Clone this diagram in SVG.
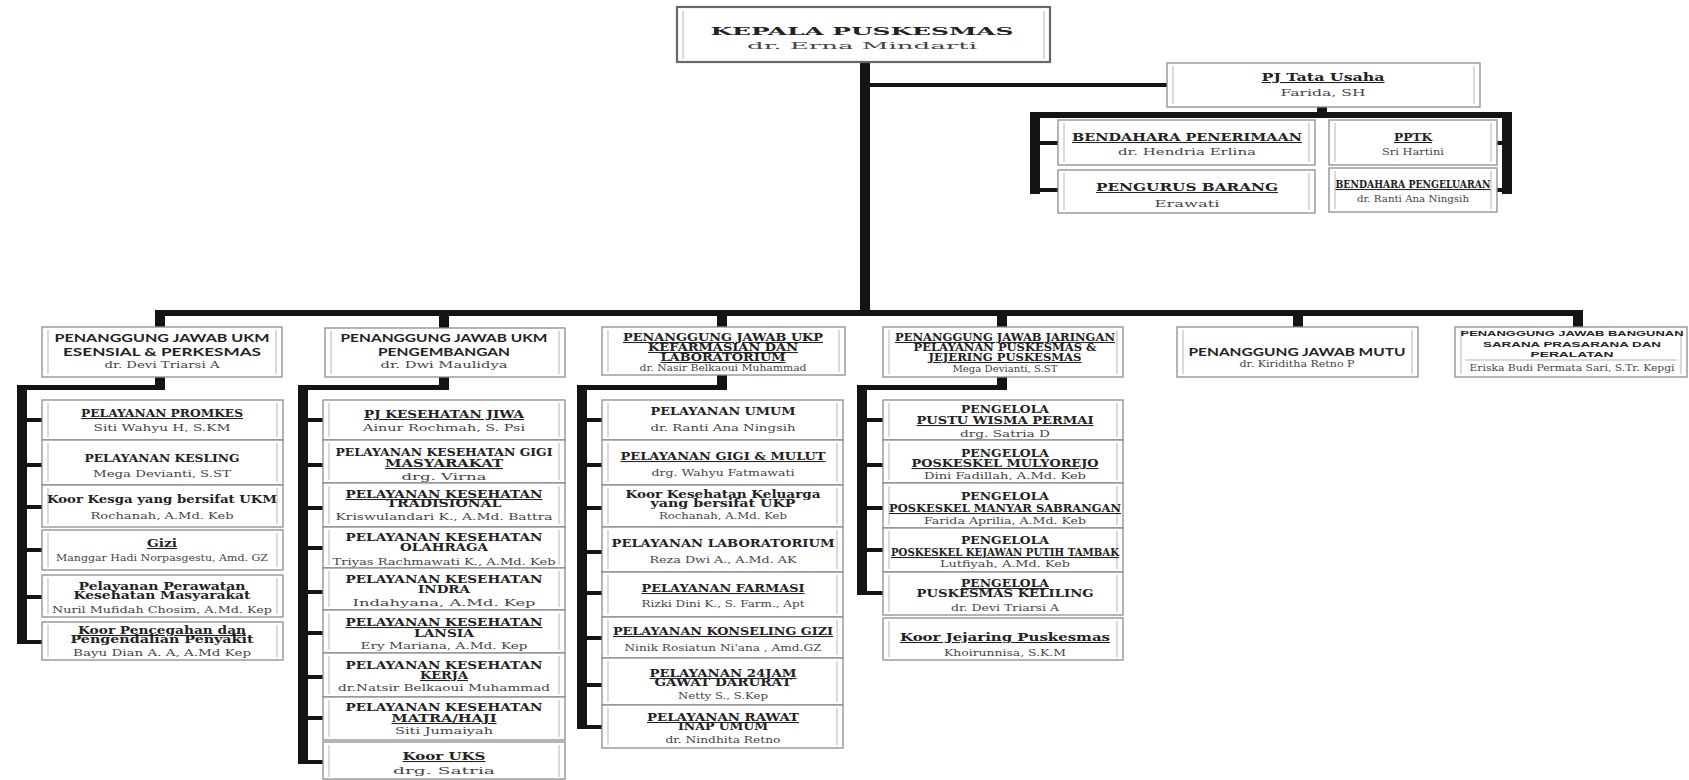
<svg xmlns="http://www.w3.org/2000/svg" width="1689" height="780" viewBox="0 0 1689 780">
<style>
.bg{fill:#fff}
.b{fill:#fff;stroke:#8c8c8c;stroke-width:1.3}
.bt{fill:#fff;stroke:#666;stroke-width:2.2}
.t{stroke:#b5b5b5;stroke-width:1;fill:none}
.c{fill:#141414}
text{text-anchor:middle}
.h{font-family:"DejaVu Serif","Liberation Serif",serif;font-weight:bold;font-size:10.5px;fill:#222}
.s{font-family:Lato,"Open Sans",sans-serif;font-weight:bold;font-size:12px;fill:#222}
.sl{font-family:"Liberation Sans",Arial,sans-serif;font-weight:bold;font-size:8px;fill:#222}
.n{font-family:"DejaVu Serif","Liberation Serif",serif;font-size:10px;fill:#444}
.u{text-decoration:underline}
</style>
<rect class="bg" x="0" y="0" width="1689" height="780"/>

<g id="connectors">
<rect class="c" x="860" y="62" width="10" height="254"/>
<rect class="c" x="870" y="83" width="297" height="4"/>
<rect class="c" x="1317" y="107" width="10" height="8"/>
<rect class="c" x="1030" y="112" width="482" height="6"/>
<rect class="c" x="1030" y="112" width="10" height="82"/>
<rect class="c" x="1040" y="141" width="18" height="4"/>
<rect class="c" x="1040" y="188" width="18" height="4"/>
<rect class="c" x="1502" y="112" width="10" height="82"/>
<rect class="c" x="1497" y="141" width="5" height="4"/>
<rect class="c" x="1497" y="188" width="5" height="4"/>

<rect class="c" x="155" y="310" width="1428" height="6"/>
<rect class="c" x="155" y="316" width="10" height="11"/>
<rect class="c" x="439" y="316" width="10" height="12"/>
<rect class="c" x="717" y="316" width="10" height="11"/>
<rect class="c" x="997" y="316" width="10" height="11"/>
<rect class="c" x="1293" y="316" width="10" height="11"/>
<rect class="c" x="1573" y="316" width="10" height="11"/>

<rect class="c" x="155" y="377" width="10" height="12"/>
<rect class="c" x="17" y="385" width="148" height="5"/>
<rect class="c" x="17" y="385" width="10" height="259"/>
<rect class="c" x="27" y="418" width="15" height="4"/>
<rect class="c" x="27" y="463" width="15" height="4"/>
<rect class="c" x="27" y="505" width="15" height="4"/>
<rect class="c" x="27" y="548" width="15" height="4"/>
<rect class="c" x="27" y="595" width="15" height="4"/>
<rect class="c" x="27" y="640" width="15" height="4"/>

<rect class="c" x="439" y="377" width="10" height="12"/>
<rect class="c" x="298" y="385" width="151" height="5"/>
<rect class="c" x="298" y="385" width="10" height="379"/>
<rect class="c" x="308" y="418" width="15" height="4"/>
<rect class="c" x="308" y="463" width="15" height="4"/>
<rect class="c" x="308" y="506" width="15" height="4"/>
<rect class="c" x="308" y="546" width="15" height="4"/>
<rect class="c" x="308" y="590" width="15" height="4"/>
<rect class="c" x="308" y="631" width="15" height="4"/>
<rect class="c" x="308" y="675" width="15" height="4"/>
<rect class="c" x="308" y="716" width="15" height="4"/>
<rect class="c" x="308" y="760" width="15" height="4"/>

<rect class="c" x="717" y="375" width="10" height="14"/>
<rect class="c" x="577" y="385" width="150" height="5"/>
<rect class="c" x="577" y="385" width="10" height="344"/>
<rect class="c" x="587" y="418" width="15" height="4"/>
<rect class="c" x="587" y="463" width="15" height="4"/>
<rect class="c" x="587" y="506" width="15" height="4"/>
<rect class="c" x="587" y="550" width="15" height="4"/>
<rect class="c" x="587" y="591" width="15" height="4"/>
<rect class="c" x="587" y="636" width="15" height="4"/>
<rect class="c" x="587" y="683" width="15" height="4"/>
<rect class="c" x="587" y="725" width="15" height="4"/>

<rect class="c" x="997" y="377" width="10" height="12"/>
<rect class="c" x="857" y="385" width="150" height="5"/>
<rect class="c" x="857" y="385" width="10" height="210"/>
<rect class="c" x="867" y="418" width="16" height="4"/>
<rect class="c" x="867" y="463" width="16" height="4"/>
<rect class="c" x="867" y="506" width="16" height="4"/>
<rect class="c" x="867" y="548" width="16" height="4"/>
<rect class="c" x="867" y="591" width="16" height="4"/>
</g>

<g id="kepala">
<rect class="bt" x="677" y="7" width="373" height="55"/>
<path class="t" d="M683 11v48M1044 11v48"/>
<text class="h" x="862" y="35" font-size="19" textLength="303" lengthAdjust="spacingAndGlyphs">KEPALA PUSKESMAS</text>
<text class="n" x="862" y="49" font-size="15" textLength="230" lengthAdjust="spacingAndGlyphs">dr. Erna Mindarti</text>
</g>

<g id="pj-tata-usaha">
<rect class="b" x="1167" y="63" width="313" height="44"/>
<path class="t" d="M1173 66v38M1474 66v38"/>
<text class="h u" x="1323" y="81" font-size="12" textLength="123" lengthAdjust="spacingAndGlyphs">PJ Tata Usaha</text>
<text class="n" x="1323" y="96" textLength="85" lengthAdjust="spacingAndGlyphs">Farida, SH</text>
</g>

<g id="bendahara-penerimaan">
<rect class="b" x="1058" y="120" width="257" height="45"/>
<path class="t" d="M1064 123v39M1309 123v39"/>
<text class="h u" x="1187" y="141" font-size="11" textLength="230" lengthAdjust="spacingAndGlyphs">BENDAHARA PENERIMAAN</text>
<text class="n" x="1187" y="155" textLength="138" lengthAdjust="spacingAndGlyphs">dr. Hendria Erlina</text>
</g>

<g id="pengurus-barang">
<rect class="b" x="1058" y="170" width="257" height="43"/>
<path class="t" d="M1064 173v37M1309 173v37"/>
<text class="h u" x="1187" y="191" font-size="11" textLength="182" lengthAdjust="spacingAndGlyphs">PENGURUS BARANG</text>
<text class="n" x="1187" y="207" font-size="14" textLength="65" lengthAdjust="spacingAndGlyphs">Erawati</text>
</g>

<g id="pptk">
<rect class="b" x="1329" y="120" width="168" height="45"/>
<path class="t" d="M1335 123v39M1491 123v39"/>
<text class="h u" x="1413" y="141" font-size="11" textLength="38" lengthAdjust="spacingAndGlyphs">PPTK</text>
<text class="n" x="1413" y="155" textLength="62" lengthAdjust="spacingAndGlyphs">Sri Hartini</text>
</g>

<g id="bendahara-pengeluaran">
<rect class="b" x="1329" y="168" width="168" height="44"/>
<path class="t" d="M1335 171v38M1491 171v38"/>
<text class="h u" x="1413" y="188" font-size="10" textLength="155" lengthAdjust="spacingAndGlyphs">BENDAHARA PENGELUARAN</text>
<text class="n" x="1413" y="202" textLength="112" lengthAdjust="spacingAndGlyphs">dr. Ranti Ana Ningsih</text>
</g>

<g id="pj-ukm-esensial">
<rect class="b" x="42" y="327" width="240" height="50"/>
<path class="t" d="M48 330v44M276 330v44"/>
<text class="s" x="162" y="342" textLength="215" lengthAdjust="spacingAndGlyphs">PENANGGUNG JAWAB UKM</text>
<text class="s" x="162" y="356" textLength="198" lengthAdjust="spacingAndGlyphs">ESENSIAL &amp; PERKESMAS</text>
<text class="n" x="162" y="368" font-size="9" textLength="115" lengthAdjust="spacingAndGlyphs">dr. Devi Triarsi A</text>
</g>

<g id="pj-ukm-pengembangan">
<rect class="b" x="325" y="328" width="240" height="49"/>
<path class="t" d="M331 331v43M559 331v43"/>
<text class="s" x="444" y="342" textLength="207" lengthAdjust="spacingAndGlyphs">PENANGGUNG JAWAB UKM</text>
<text class="s" x="444" y="356" textLength="132" lengthAdjust="spacingAndGlyphs">PENGEMBANGAN</text>
<text class="n" x="444" y="368" font-size="9" textLength="127" lengthAdjust="spacingAndGlyphs">dr. Dwi Maulidya</text>
</g>

<g id="pj-ukp">
<rect class="b" x="602" y="327" width="243" height="48"/>
<path class="t" d="M608 330v42M839 330v42"/>
<text class="h u" x="723" y="341" textLength="200" lengthAdjust="spacingAndGlyphs">PENANGGUNG JAWAB UKP</text>
<text class="h u" x="723" y="351" textLength="150" lengthAdjust="spacingAndGlyphs">KEFARMASIAN DAN</text>
<text class="h u" x="723" y="361" textLength="125" lengthAdjust="spacingAndGlyphs">LABORATORIUM</text>
<text class="n" x="723" y="371" font-size="8" textLength="167" lengthAdjust="spacingAndGlyphs">dr. Nasir Belkaoui Muhammad</text>
</g>

<g id="pj-jaringan">
<rect class="b" x="883" y="327" width="240" height="50"/>
<path class="t" d="M889 330v44M1117 330v44"/>
<text class="h u" x="1005" y="341" textLength="220" lengthAdjust="spacingAndGlyphs">PENANGGUNG JAWAB JARINGAN</text>
<text class="h" x="1005" y="351" textLength="183" lengthAdjust="spacingAndGlyphs">PELAYANAN PUSKESMAS &amp;</text>
<text class="h u" x="1005" y="361" textLength="153" lengthAdjust="spacingAndGlyphs">JEJERING PUSKESMAS</text>
<text class="n" x="1005" y="372" font-size="8" textLength="105" lengthAdjust="spacingAndGlyphs">Mega Devianti, S.ST</text>
</g>

<g id="pj-mutu">
<rect class="b" x="1177" y="327" width="241" height="50"/>
<path class="t" d="M1183 330v44M1412 330v44"/>
<text class="s" x="1297" y="356" textLength="217" lengthAdjust="spacingAndGlyphs">PENANGGUNG JAWAB MUTU</text>
<text class="n" x="1297" y="367" font-size="8" textLength="115" lengthAdjust="spacingAndGlyphs">dr. Kiriditha Retno P</text>
</g>

<g id="pj-bangunan">
<rect class="b" x="1455" y="327" width="232" height="50"/>
<path class="t" d="M1461 330v44M1681 330v44M1465 360h212"/>
<text class="sl" x="1572" y="336" textLength="223" lengthAdjust="spacingAndGlyphs">PENANGGUNG JAWAB BANGUNAN</text>
<text class="sl" x="1572" y="346.5" textLength="178" lengthAdjust="spacingAndGlyphs">SARANA PRASARANA DAN</text>
<text class="sl" x="1572" y="357" textLength="83" lengthAdjust="spacingAndGlyphs">PERALATAN</text>
<text class="n" x="1572" y="371" font-size="8" textLength="205" lengthAdjust="spacingAndGlyphs">Eriska Budi Permata Sari, S.Tr. Kepgi</text>
</g>

<!-- column 1 -->
<g id="promkes">
<rect class="b" x="42" y="400" width="241" height="40"/>
<path class="t" d="M48 403v34M277 403v34"/>
<text class="h u" x="162" y="417" textLength="162" lengthAdjust="spacingAndGlyphs">PELAYANAN PROMKES</text>
<text class="n" x="162" y="431" textLength="137" lengthAdjust="spacingAndGlyphs">Siti Wahyu H, S.KM</text>
</g>
<g id="kesling">
<rect class="b" x="42" y="440" width="241" height="45"/>
<path class="t" d="M48 443v39M277 443v39"/>
<text class="h" x="162" y="462" textLength="155" lengthAdjust="spacingAndGlyphs">PELAYANAN KESLING</text>
<text class="n" x="162" y="477" textLength="138" lengthAdjust="spacingAndGlyphs">Mega Devianti, S.ST</text>
</g>
<g id="koor-kesga">
<rect class="b" x="42" y="485" width="241" height="42"/>
<path class="t" d="M48 488v36M277 488v36"/>
<text class="h" x="162" y="503" textLength="230" lengthAdjust="spacingAndGlyphs">Koor Kesga yang bersifat UKM</text>
<text class="n" x="162" y="519" textLength="143" lengthAdjust="spacingAndGlyphs">Rochanah, A.Md. Keb</text>
</g>
<g id="gizi">
<rect class="b" x="42" y="530" width="241" height="40"/>
<path class="t" d="M48 533v34M277 533v34"/>
<text class="h u" x="162" y="547" textLength="30" lengthAdjust="spacingAndGlyphs">Gizi</text>
<text class="n" x="162" y="561" font-size="8.5" textLength="212" lengthAdjust="spacingAndGlyphs">Manggar Hadi Norpasgestu, Amd. GZ</text>
</g>
<g id="perkesmas">
<rect class="b" x="42" y="575" width="241" height="42"/>
<path class="t" d="M48 578v36M277 578v36"/>
<text class="h" x="162" y="590" textLength="167" lengthAdjust="spacingAndGlyphs">Pelayanan Perawatan</text>
<text class="h" x="162" y="599" textLength="177" lengthAdjust="spacingAndGlyphs">Kesehatan Masyarakat</text>
<text class="n" x="162" y="613" textLength="220" lengthAdjust="spacingAndGlyphs">Nuril Mufidah Chosim, A.Md. Kep</text>
</g>
<g id="p2p">
<rect class="b" x="42" y="622" width="241" height="38"/>
<path class="t" d="M48 625v32M277 625v32"/>
<text class="h u" x="162" y="634" textLength="168" lengthAdjust="spacingAndGlyphs">Koor Pencegahan dan</text>
<text class="h" x="162" y="643" textLength="183" lengthAdjust="spacingAndGlyphs">Pengendalian Penyakit</text>
<text class="n" x="162" y="656" textLength="178" lengthAdjust="spacingAndGlyphs">Bayu Dian A. A, A.Md Kep</text>
</g>

<!-- column 2 -->
<g id="jiwa">
<rect class="b" x="323" y="400" width="242" height="40"/>
<path class="t" d="M329 403v34M559 403v34"/>
<text class="h u" x="444" y="418" textLength="160" lengthAdjust="spacingAndGlyphs">PJ KESEHATAN JIWA</text>
<text class="n" x="444" y="431" textLength="162" lengthAdjust="spacingAndGlyphs">Ainur Rochmah, S. Psi</text>
</g>
<g id="gigi-masyarakat">
<rect class="b" x="323" y="440" width="242" height="43"/>
<path class="t" d="M329 443v37M559 443v37"/>
<text class="h" x="444" y="456" textLength="217" lengthAdjust="spacingAndGlyphs">PELAYANAN KESEHATAN GIGI</text>
<text class="h u" x="444" y="467" textLength="118" lengthAdjust="spacingAndGlyphs">MASYARAKAT</text>
<text class="n" x="444" y="480" font-size="14" textLength="85" lengthAdjust="spacingAndGlyphs">drg. Virna</text>
</g>
<g id="tradisional">
<rect class="b" x="323" y="483" width="242" height="44"/>
<path class="t" d="M329 486v38M559 486v38"/>
<text class="h u" x="444" y="498" textLength="197" lengthAdjust="spacingAndGlyphs">PELAYANAN KESEHATAN</text>
<text class="h" x="444" y="507" textLength="115" lengthAdjust="spacingAndGlyphs">TRADISIONAL</text>
<text class="n" x="444" y="520" textLength="217" lengthAdjust="spacingAndGlyphs">Kriswulandari K., A.Md. Battra</text>
</g>
<g id="olahraga">
<rect class="b" x="323" y="527" width="242" height="41"/>
<path class="t" d="M329 530v35M559 530v35"/>
<text class="h" x="444" y="541" textLength="197" lengthAdjust="spacingAndGlyphs">PELAYANAN KESEHATAN</text>
<text class="h" x="444" y="551" textLength="88" lengthAdjust="spacingAndGlyphs">OLAHRAGA</text>
<text class="n" x="444" y="565" textLength="223" lengthAdjust="spacingAndGlyphs">Triyas Rachmawati K., A.Md. Keb</text>
</g>
<g id="indra">
<rect class="b" x="323" y="568" width="242" height="42"/>
<path class="t" d="M329 571v36M559 571v36"/>
<text class="h" x="444" y="583" textLength="197" lengthAdjust="spacingAndGlyphs">PELAYANAN KESEHATAN</text>
<text class="h" x="444" y="593" textLength="52" lengthAdjust="spacingAndGlyphs">INDRA</text>
<text class="n" x="444" y="606" font-size="12" textLength="183" lengthAdjust="spacingAndGlyphs">Indahyana, A.Md. Kep</text>
</g>
<g id="lansia">
<rect class="b" x="323" y="610" width="242" height="43"/>
<path class="t" d="M329 613v37M559 613v37"/>
<text class="h u" x="444" y="626" textLength="197" lengthAdjust="spacingAndGlyphs">PELAYANAN KESEHATAN</text>
<text class="h" x="444" y="637" textLength="60" lengthAdjust="spacingAndGlyphs">LANSIA</text>
<text class="n" x="444" y="649" textLength="167" lengthAdjust="spacingAndGlyphs">Ery Mariana, A.Md. Kep</text>
</g>
<g id="kerja">
<rect class="b" x="323" y="653" width="242" height="44"/>
<path class="t" d="M329 656v38M559 656v38"/>
<text class="h" x="444" y="669" textLength="197" lengthAdjust="spacingAndGlyphs">PELAYANAN KESEHATAN</text>
<text class="h u" x="444" y="679" textLength="48" lengthAdjust="spacingAndGlyphs">KERJA</text>
<text class="n" x="444" y="691" textLength="212" lengthAdjust="spacingAndGlyphs">dr.Natsir Belkaoui Muhammad</text>
</g>
<g id="matra-haji">
<rect class="b" x="323" y="697" width="242" height="43"/>
<path class="t" d="M329 700v37M559 700v37"/>
<text class="h" x="444" y="711" textLength="197" lengthAdjust="spacingAndGlyphs">PELAYANAN KESEHATAN</text>
<text class="h u" x="444" y="722" textLength="105" lengthAdjust="spacingAndGlyphs">MATRA/HAJI</text>
<text class="n" x="444" y="734" textLength="98" lengthAdjust="spacingAndGlyphs">Siti Jumaiyah</text>
</g>
<g id="koor-uks">
<rect class="b" x="323" y="742" width="242" height="37"/>
<path class="t" d="M329 745v32M559 745v32"/>
<text class="h u" x="444" y="760" textLength="83" lengthAdjust="spacingAndGlyphs">Koor UKS</text>
<text class="n" x="444" y="774" font-size="14" textLength="102" lengthAdjust="spacingAndGlyphs">drg. Satria</text>
</g>

<!-- column 3 -->
<g id="umum">
<rect class="b" x="602" y="400" width="241" height="40"/>
<path class="t" d="M608 403v34M837 403v34"/>
<text class="h" x="723" y="415" textLength="145" lengthAdjust="spacingAndGlyphs">PELAYANAN UMUM</text>
<text class="n" x="723" y="431" textLength="145" lengthAdjust="spacingAndGlyphs">dr. Ranti Ana Ningsih</text>
</g>
<g id="gigi-mulut">
<rect class="b" x="602" y="440" width="241" height="45"/>
<path class="t" d="M608 443v39M837 443v39"/>
<text class="h u" x="723" y="460" textLength="205" lengthAdjust="spacingAndGlyphs">PELAYANAN GIGI &amp; MULUT</text>
<text class="n" x="723" y="476" textLength="143" lengthAdjust="spacingAndGlyphs">drg. Wahyu Fatmawati</text>
</g>
<g id="koor-kesga-ukp">
<rect class="b" x="602" y="485" width="241" height="42"/>
<path class="t" d="M608 488v36M837 488v36"/>
<text class="h" x="723" y="498" textLength="195" lengthAdjust="spacingAndGlyphs">Koor Kesehatan Keluarga</text>
<text class="h" x="723" y="507" textLength="145" lengthAdjust="spacingAndGlyphs">yang bersifat UKP</text>
<text class="n" x="723" y="519" textLength="128" lengthAdjust="spacingAndGlyphs">Rochanah, A.Md. Keb</text>
</g>
<g id="laboratorium">
<rect class="b" x="602" y="527" width="241" height="45"/>
<path class="t" d="M608 530v39M837 530v39"/>
<text class="h" x="723" y="547" textLength="223" lengthAdjust="spacingAndGlyphs">PELAYANAN LABORATORIUM</text>
<text class="n" x="723" y="563" textLength="147" lengthAdjust="spacingAndGlyphs">Reza Dwi A., A.Md. AK</text>
</g>
<g id="farmasi">
<rect class="b" x="602" y="572" width="241" height="45"/>
<path class="t" d="M608 575v39M837 575v39"/>
<text class="h u" x="723" y="592" textLength="163" lengthAdjust="spacingAndGlyphs">PELAYANAN FARMASI</text>
<text class="n" x="723" y="607" textLength="163" lengthAdjust="spacingAndGlyphs">Rizki Dini K., S. Farm., Apt</text>
</g>
<g id="konseling-gizi">
<rect class="b" x="602" y="617" width="241" height="41"/>
<path class="t" d="M608 620v35M837 620v35"/>
<text class="h u" x="723" y="635" textLength="220" lengthAdjust="spacingAndGlyphs">PELAYANAN KONSELING GIZI</text>
<text class="n" x="723" y="651" font-size="9" textLength="197" lengthAdjust="spacingAndGlyphs">Ninik Rosiatun Ni'ana , Amd.GZ</text>
</g>
<g id="ugd">
<rect class="b" x="602" y="658" width="241" height="47"/>
<path class="t" d="M608 661v41M837 661v41"/>
<text class="h u" x="723" y="677" textLength="147" lengthAdjust="spacingAndGlyphs">PELAYANAN 24JAM</text>
<text class="h" x="723" y="686" textLength="137" lengthAdjust="spacingAndGlyphs">GAWAT DARURAT</text>
<text class="n" x="723" y="699" textLength="90" lengthAdjust="spacingAndGlyphs">Netty S., S.Kep</text>
</g>
<g id="rawat-inap">
<rect class="b" x="602" y="705" width="241" height="43"/>
<path class="t" d="M608 708v37M837 708v37"/>
<text class="h u" x="723" y="721" textLength="152" lengthAdjust="spacingAndGlyphs">PELAYANAN RAWAT</text>
<text class="h" x="723" y="730" textLength="90" lengthAdjust="spacingAndGlyphs">INAP UMUM</text>
<text class="n" x="723" y="743" textLength="115" lengthAdjust="spacingAndGlyphs">dr. Nindhita Retno</text>
</g>

<!-- column 4 -->
<g id="pustu">
<rect class="b" x="883" y="400" width="240" height="40"/>
<path class="t" d="M889 403v34M1117 403v34"/>
<text class="h" x="1005" y="413" textLength="88" lengthAdjust="spacingAndGlyphs">PENGELOLA</text>
<text class="h u" x="1005" y="424" textLength="177" lengthAdjust="spacingAndGlyphs">PUSTU WISMA PERMAI</text>
<text class="n" x="1005" y="437" textLength="90" lengthAdjust="spacingAndGlyphs">drg. Satria D</text>
</g>
<g id="mulyorejo">
<rect class="b" x="883" y="440" width="240" height="43"/>
<path class="t" d="M889 443v37M1117 443v37"/>
<text class="h" x="1005" y="457" textLength="88" lengthAdjust="spacingAndGlyphs">PENGELOLA</text>
<text class="h u" x="1005" y="467" textLength="187" lengthAdjust="spacingAndGlyphs">POSKESKEL MULYOREJO</text>
<text class="n" x="1005" y="479" textLength="162" lengthAdjust="spacingAndGlyphs">Dini Fadillah, A.Md. Keb</text>
</g>
<g id="manyar">
<rect class="b" x="883" y="483" width="240" height="45"/>
<path class="t" d="M889 486v39M1117 486v39"/>
<text class="h" x="1005" y="500" textLength="88" lengthAdjust="spacingAndGlyphs">PENGELOLA</text>
<text class="h u" x="1005" y="512" textLength="232" lengthAdjust="spacingAndGlyphs">POSKESKEL MANYAR SABRANGAN</text>
<text class="n" x="1005" y="524" textLength="162" lengthAdjust="spacingAndGlyphs">Farida Aprilia, A.Md. Keb</text>
</g>
<g id="kejawan">
<rect class="b" x="883" y="528" width="240" height="44"/>
<path class="t" d="M889 531v38M1117 531v38"/>
<text class="h" x="1005" y="544" textLength="88" lengthAdjust="spacingAndGlyphs">PENGELOLA</text>
<text class="h u" x="1005" y="556" font-size="9.5" textLength="228" lengthAdjust="spacingAndGlyphs">POSKESKEL KEJAWAN PUTIH TAMBAK</text>
<text class="n" x="1005" y="567" textLength="130" lengthAdjust="spacingAndGlyphs">Lutfiyah, A.Md. Keb</text>
</g>
<g id="keliling">
<rect class="b" x="883" y="572" width="240" height="43"/>
<path class="t" d="M889 575v37M1117 575v37"/>
<text class="h u" x="1005" y="587" textLength="88" lengthAdjust="spacingAndGlyphs">PENGELOLA</text>
<text class="h" x="1005" y="597" textLength="177" lengthAdjust="spacingAndGlyphs">PUSKESMAS KELILING</text>
<text class="n" x="1005" y="611" textLength="108" lengthAdjust="spacingAndGlyphs">dr. Devi Triarsi A</text>
</g>
<g id="koor-jejaring">
<rect class="b" x="883" y="618" width="240" height="42"/>
<path class="t" d="M889 621v36M1117 621v36"/>
<text class="h u" x="1005" y="641" textLength="210" lengthAdjust="spacingAndGlyphs">Koor Jejaring Puskesmas</text>
<text class="n" x="1005" y="656" textLength="122" lengthAdjust="spacingAndGlyphs">Khoirunnisa, S.K.M</text>
</g>
</svg>
